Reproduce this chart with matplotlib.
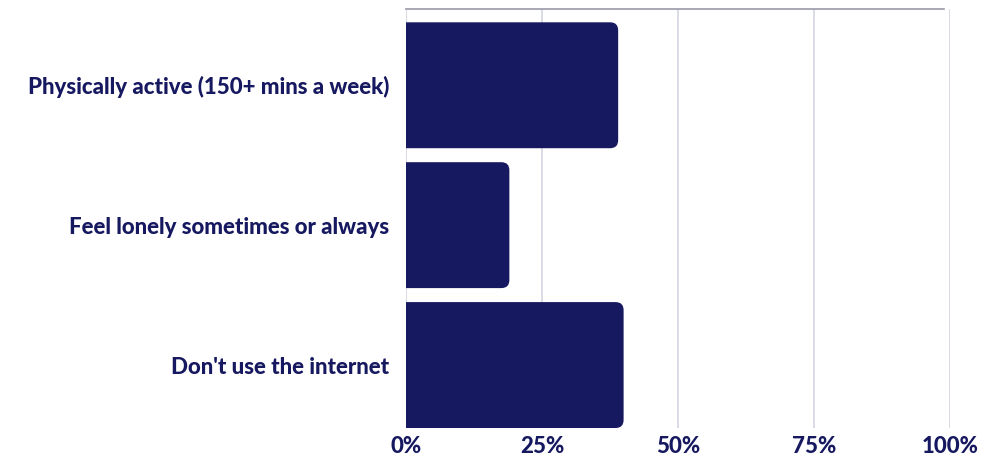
import matplotlib.pyplot as plt
from matplotlib.path import Path
from matplotlib.patches import PathPatch

# share of people for each measure (%)
categorias = ["Physically active (150+ mins a week)",
              "Feel lonely sometimes or always",
              "Don't use the internet"]
valores = [39, 19, 40]
ticks = [0, 25, 50, 75, 100]
tick_labels = ["0%", "25%", "50%", "75%", "100%"]

azul = "#161860"
plt.rcParams["font.family"] = ["Lato", "DejaVu Sans"]

fig = plt.figure(figsize=(10.02, 4.62), dpi=100)
ax = fig.add_axes([0.4052, 0.0736, 0.5429, 0.9069])

pos = list(range(len(categorias)))[::-1]
alto = 0.9
barras = ax.barh(pos, valores, height=alto, color="none", zorder=3)

ax.set_xlim(0, 100)
ax.set_ylim(-0.45, 2.545)

# bordes redondeados solo del lado derecho
fig.canvas.draw()
ancho_px = ax.get_window_extent().width
alto_px = ax.get_window_extent().height
radio = 8
rx = radio * 100 / ancho_px
ry = radio * (2.545 + 0.45) / alto_px
for b in barras:
    x0, y0 = b.get_x(), b.get_y()
    x1, y1 = x0 + b.get_width(), y0 + b.get_height()
    verts = [(x0, y0), (x1 - rx, y0), (x1, y0), (x1, y0 + ry),
             (x1, y1 - ry), (x1, y1), (x1 - rx, y1), (x0, y1), (x0, y0)]
    codes = [Path.MOVETO, Path.LINETO, Path.CURVE3, Path.CURVE3,
             Path.LINETO, Path.CURVE3, Path.CURVE3, Path.LINETO, Path.CLOSEPOLY]
    ax.add_patch(PathPatch(Path(verts, codes), facecolor=azul,
                           edgecolor="none", zorder=3))

ax.set_xticks(ticks)
ax.set_xticklabels(tick_labels)
ax.set_yticks(pos)
ax.set_yticklabels(categorias)
ax.tick_params(axis="x", length=0, pad=6, labelsize=16, labelcolor=azul)
ax.tick_params(axis="y", length=0, pad=12, labelsize=16, labelcolor=azul)
for t in ax.get_xticklabels() + ax.get_yticklabels():
    t.set_fontweight("black")

ax.grid(axis="x", color="#d4d4e4", linewidth=1.2, zorder=0)
for s in ax.spines.values():
    s.set_visible(False)
ax.plot([0, 0.989], [1, 1], transform=ax.transAxes, color="#9a9aa8",
        linewidth=1.2, clip_on=False, zorder=4)

fig.savefig("out.png", dpi=100)
